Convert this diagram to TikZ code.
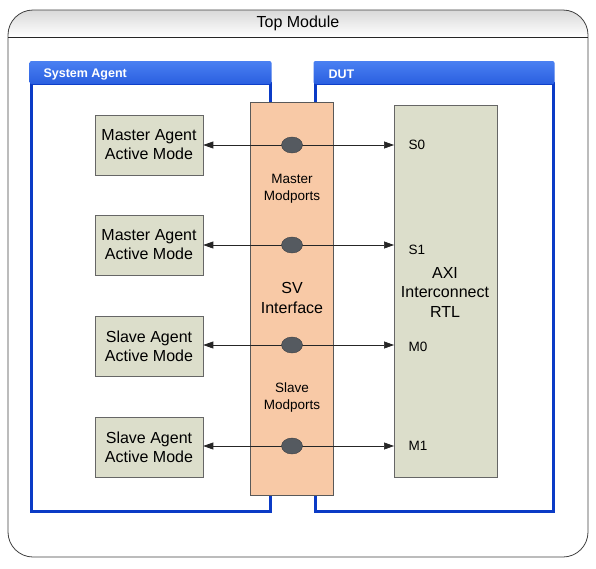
\documentclass[tikz,border=0pt]{standalone}
\usepackage{fontspec}
\setmainfont{Liberation Sans}
\usetikzlibrary{arrows.meta,shapes.geometric}
\definecolor{hdrblue}{HTML}{2A5FE0}
\definecolor{hdrlight}{HTML}{4A80F2}
\definecolor{brdblue}{HTML}{0B3BC6}
\definecolor{agentfill}{HTML}{DCDECB}
\definecolor{svfill}{HTML}{F8C9A6}
\definecolor{ovalfill}{HTML}{555A60}
\tikzset{
  agentbox/.style={draw=gray!80!black, fill=agentfill, line width=0.6pt, minimum width=108pt, minimum height=60pt, align=center, font=\fontsize{16}{19}\selectfont},
  smalltxt/.style={align=center, font=\fontsize{13.5}{17}\selectfont},
  porttxt/.style={anchor=west, font=\fontsize{13.5}{15}\selectfont},
  midtxt/.style={align=center, font=\fontsize{16}{19.5}\selectfont},
  link/.style={{Triangle[length=10pt,width=7pt]}-{Triangle[length=10pt,width=7pt]}, line width=0.7pt, black!85},
  oval/.style={ellipse, draw=ovalfill!70!black, fill=ovalfill, minimum width=21pt, minimum height=16pt, inner sep=0pt},
  hdrtxt/.style={anchor=west, text=white, font=\bfseries\fontsize{12.5}{14}\selectfont}
}
\begin{document}
\begin{tikzpicture}[x=1pt,y=-1pt]
\useasboundingbox (0,0) rectangle (596,568);
% Top module
\begin{scope}
\clip[rounded corners=25pt] (8,10) rectangle (588,557);
\shade[top color=gray!30, bottom color=white] (8,10) rectangle (588,37);
\end{scope}
\draw[line width=0.8pt, black!75, rounded corners=25pt] (8,10) rectangle (588,557);
\draw[line width=0.8pt, black!85] (8,37) -- (588,37);
\node[font=\fontsize{16}{18}\selectfont] (top) at (298,23) {Top Module};
% System agent
\draw[brdblue, line width=3pt] (31,83) rectangle (270,511);
\shade[top color=hdrlight, bottom color=hdrblue, rounded corners=2pt] (29.5,61) rectangle (271.5,84);
\node[hdrtxt] (sa) at (40,74) {System Agent};
% DUT
\draw[brdblue, line width=3pt] (315,83) rectangle (553,511);
\shade[top color=hdrlight, bottom color=hdrblue, rounded corners=2pt] (313.5,61) rectangle (554.5,84);
\node[hdrtxt] (dut) at (325,74) {DUT};
% SV interface
\draw[fill=svfill, draw=gray!70!black, line width=0.6pt] (250,102) rectangle (333,495);
% AXI
\draw[fill=agentfill, draw=gray!80!black, line width=0.6pt] (394,105) rectangle (497,477);
\coordinate (s0) at (394,145);
\coordinate (s1) at (394,245);
\coordinate (m0) at (394,345);
\coordinate (m1) at (394,446);
% agents
\node[agentbox] (a1) at (149,145) {Master Agent\\Active Mode};
\node[agentbox] (a2) at (149,245) {Master Agent\\Active Mode};
\node[agentbox] (a3) at (149,346) {Slave Agent\\Active Mode};
\node[agentbox] (a4) at (149,447) {Slave Agent\\Active Mode};
% links
\draw[link] (a1.east |- s0) -- (s0);
\draw[link] (a2.east |- s1) -- (s1);
\draw[link] (a3.east |- m0) -- (m0);
\draw[link] (a4.east |- m1) -- (m1);
\node[oval] (o1) at (292,145) {};
\node[oval] (o2) at (292,245) {};
\node[oval] (o3) at (292,345) {};
\node[oval] (o4) at (292,446) {};
% labels
\node[porttxt] (ls0) at (405,145) {S0};
\node[porttxt] (ls1) at (405,250) {S1};
\node[porttxt] (lm0) at (405,347) {M0};
\node[porttxt] (lm1) at (405,446) {M1};
\node[smalltxt] (mm) at (292,189) {Master\\Modports};
\node[smalltxt] (sm) at (292,397) {Slave\\Modports};
\node[midtxt] (svi) at (292,298) {SV\\Interface};
\node[midtxt] (axi) at (445,292) {AXI\\Interconnect\\RTL};
\end{tikzpicture}
\end{document}
